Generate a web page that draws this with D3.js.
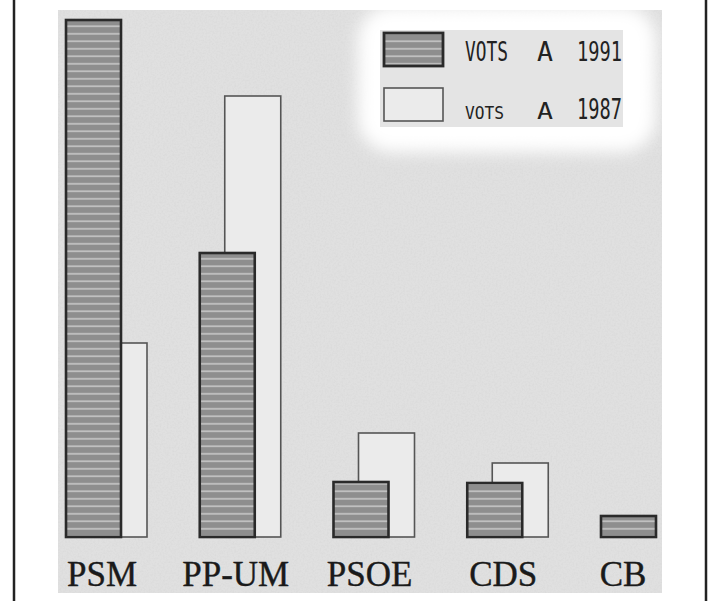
<!DOCTYPE html>
<html>
<head>
<meta charset="utf-8">
<script src="https://cdn.jsdelivr.net/npm/d3@7.9.0/dist/d3.min.js"></script>
<style>
  html, body { margin: 0; padding: 0; background: #fff; }
  svg { display: block; }
</style>
</head>
<body>
<svg id="chart" width="713" height="601"></svg>
<script>
// data (arbitrary units, proportional to bar height)
const parties = ['PSM', 'PP-UM', 'PSOE', 'CDS', 'CB'];
const votes1991 = [517, 284, 55, 54, 21];
const votes1987 = [194, 441, 104, 74, 0];
const seriesLabels = ['VOTS A 1991', 'VOTS A 1987'];

const width = 713, height = 601;
const svg = d3.select('#chart');
const defs = svg.append('defs');

// paper grain
const grain = defs.append('filter').attr('id', 'grain')
  .attr('x', 0).attr('y', 0).attr('width', 1).attr('height', 1);
grain.append('feTurbulence').attr('type', 'fractalNoise')
  .attr('baseFrequency', 0.55).attr('numOctaves', 2).attr('seed', 4).attr('result', 'n');
grain.append('feColorMatrix').attr('in', 'n').attr('type', 'matrix')
  .attr('values', '0 0 0 0 0.5  0 0 0 0 0.5  0 0 0 0 0.5  0 0 0 -0.9 0.55');
grain.append('feComposite').attr('in2', 'SourceGraphic').attr('operator', 'in');

const blur = defs.append('filter').attr('id', 'soft')
  .attr('x', -0.2).attr('y', -0.2).attr('width', 1.4).attr('height', 1.4);
blur.append('feGaussianBlur').attr('stdDeviation', 8);

// horizontal stripe hatch for the 1991 bars
const hatch = defs.append('pattern').attr('id', 'hatch')
  .attr('patternUnits', 'userSpaceOnUse').attr('width', 8).attr('height', 7.5);
hatch.append('rect').attr('width', 8).attr('height', 7.5).attr('fill', '#8e8e8e');
hatch.append('rect').attr('y', 3).attr('width', 8).attr('height', 1.6).attr('fill', '#c6c6c6');

// frame + grey paper area
svg.append('rect').attr('width', width).attr('height', height).attr('fill', '#fff');
svg.append('rect').attr('x', 58).attr('y', 10).attr('width', 604).attr('height', 583)
  .attr('fill', '#e0e0e0');
svg.append('rect').attr('x', 58).attr('y', 10).attr('width', 604).attr('height', 583)
  .attr('fill', '#e0e0e0').attr('filter', 'url(#grain)').attr('opacity', 0.35);
svg.append('line').attr('x1', 14).attr('x2', 14).attr('y1', 0).attr('y2', height)
  .attr('stroke', '#222').attr('stroke-width', 2.5);
svg.append('line').attr('x1', 706).attr('x2', 706).attr('y1', 0).attr('y2', height)
  .attr('stroke', '#222').attr('stroke-width', 2.5);

// scales
const x = d3.scaleBand().domain(parties).range([66, 66 + 5 * 133.75]);
const y = d3.scaleLinear().domain([0, 520]).range([537, 17]);
const barW = 55, oldW = 56, oldShift = 25;

const rows = parties.map((p, i) => ({ party: p, v91: votes1991[i], v87: votes1987[i] }));

// 1987 bars sit behind
svg.append('g').selectAll('rect')
  .data(rows.filter(d => d.v87 > 0))
  .join('rect')
  .attr('x', d => x(d.party) + oldShift)
  .attr('y', d => y(d.v87))
  .attr('width', oldW)
  .attr('height', d => y(0) - y(d.v87))
  .attr('fill', '#ebebeb')
  .attr('stroke', '#555')
  .attr('stroke-width', 1.6);

// 1991 bars
svg.append('g').selectAll('rect')
  .data(rows)
  .join('rect')
  .attr('x', d => x(d.party))
  .attr('y', d => y(d.v91))
  .attr('width', barW)
  .attr('height', d => y(0) - y(d.v91))
  .attr('fill', 'url(#hatch)')
  .attr('stroke', '#2a2a2a')
  .attr('stroke-width', 2.6);

// category labels
svg.append('g').selectAll('text')
  .data(rows)
  .join('text')
  .attr('x', d => x(d.party) + (d.v87 > 0 ? 36 : 22))
  .attr('y', 586)
  .attr('text-anchor', 'middle')
  .attr('font-family', '"Liberation Serif", serif')
  .attr('font-size', 35)
  .attr('fill', '#1a1a1a')
  .attr('stroke', '#1a1a1a')
  .attr('stroke-width', 0.4)
  .text(d => d.party);

// legend
const lg = svg.append('g');
lg.append('rect').attr('x', 358).attr('y', 6).attr('width', 298).attr('height', 146)
  .attr('rx', 34).attr('fill', '#fff').attr('filter', 'url(#soft)');
lg.append('rect').attr('x', 380).attr('y', 30).attr('width', 243).attr('height', 97)
  .attr('fill', '#e4e4e4');

const legendRows = [
  { label: seriesLabels[0], fill: 'url(#hatch)', stroke: '#2a2a2a', sw: 2.8, top: 33, base: 61, size: [20, 20, 20] },
  { label: seriesLabels[1], fill: '#ebebeb', stroke: '#555', sw: 1.6, top: 88, base: 119, size: [13, 18, 22] }
];
const wordX = [465, 537, 577];
const wordW = [43, 16, 45];
legendRows.forEach(d => {
  lg.append('rect').attr('x', 384).attr('y', d.top).attr('width', 59).attr('height', 33)
    .attr('fill', d.fill).attr('stroke', d.stroke).attr('stroke-width', d.sw);
  d.label.split(' ').forEach((w, j) => {
    lg.append('text').attr('x', wordX[j]).attr('y', d.base)
      .attr('font-family', '"DejaVu Sans Mono", monospace')
      .attr('font-size', d.size[j] * 1.3)
      .attr('fill', '#222')
      .attr('textLength', wordW[j] - (j === 0 && d.size[0] < 16 ? 4 : 0))
      .attr('lengthAdjust', 'spacingAndGlyphs')
      .text(w);
  });
});
</script>
</body>
</html>
